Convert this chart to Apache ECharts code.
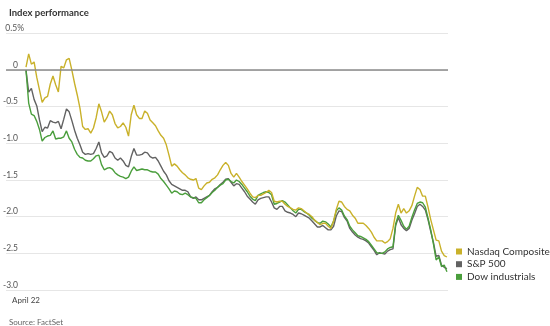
<!DOCTYPE html>
<html>
<head>
<meta charset="utf-8">
<script src="https://cdn.jsdelivr.net/npm/echarts@6/dist/echarts.min.js"></script>
<style>
html,body{margin:0;padding:0;background:#fff;}
#chart{width:550px;height:326px;}
</style>
</head>
<body>
<div id="chart"></div>
<script>
// Minutes since market open (2.5-minute samples, 9:30 to 16:00)
const minutes = [];
for (let m = 0; m <= 390; m += 2.5) minutes.push(m);

const seriesNames = ['Nasdaq Composite', 'S&P 500', 'Dow industrials'];

// Percent change values
const nasdaq = [
  0.04,0.22, 0.08,0.11, -0.10,-0.27, -0.44,-0.38, -0.36,-0.19, -0.08,-0.20, -0.30,0.05, 0.03,0.14, 0.16,0.00, -0.18,-0.34,
  -0.52,-0.77, -0.81,-0.80, -0.86,-0.79, -0.65,-0.46, -0.57,-0.71, -0.65,-0.56, -0.61,-0.73, -0.79,-0.77, -0.72,-0.78, -0.90,-0.61,
  -0.48,-0.61, -0.66,-0.66, -0.56,-0.59, -0.68,-0.72, -0.76,-0.83, -0.89,-0.93, -1.02,-1.16, -1.31,-1.28, -1.31,-1.36, -1.40,-1.43,
  -1.47,-1.49, -1.50,-1.48, -1.61,-1.63, -1.58,-1.54, -1.53,-1.49, -1.47,-1.43, -1.36,-1.30, -1.26,-1.30, -1.41,-1.46, -1.41,-1.46,
  -1.52,-1.57, -1.62,-1.68, -1.73,-1.74, -1.71,-1.71, -1.69,-1.67, -1.64,-1.67, -1.79,-1.80, -1.79,-1.79, -1.83,-1.86, -1.88,-1.90,
  -1.91,-1.88, -1.89,-1.92, -1.95,-1.97, -2.00,-2.05, -2.08,-2.11, -2.09,-2.09, -2.13,-2.16, -2.06,-1.90, -1.79,-1.80, -1.86,-1.90,
  -1.92,-1.98, -2.02,-2.09, -2.09,-2.09, -2.12,-2.16, -2.21,-2.28, -2.33,-2.33, -2.33,-2.36, -2.34,-2.30, -2.16,-1.95, -1.83,-1.95,
  -1.89,-1.95, -1.92,-1.85, -1.72,-1.60, -1.63,-1.72, -1.72,-1.87, -2.04,-2.18, -2.32,-2.33, -2.47,-2.53, -2.55];

const sp500 = [
  0,-0.30, -0.25,-0.40, -0.49,-0.68, -0.84,-0.78, -0.79,-0.69, -0.71,-0.72, -0.70,-0.80, -0.67,-0.53, -0.57,-0.69, -0.82,-0.93,
  -1.02,-1.12, -1.15,-1.14, -1.15,-1.14, -1.07,-0.98, -1.13,-1.19, -1.17,-1.11, -1.13,-1.20, -1.23,-1.20, -1.24,-1.30, -1.32,-1.18,
  -1.07,-1.16, -1.16,-1.15, -1.12,-1.13, -1.18,-1.20, -1.19,-1.24, -1.31,-1.38, -1.43,-1.51, -1.56,-1.58, -1.60,-1.62, -1.64,-1.64,
  -1.66,-1.73, -1.75,-1.73, -1.77,-1.77, -1.75,-1.73, -1.71,-1.66, -1.62,-1.60, -1.56,-1.53, -1.49,-1.48, -1.53,-1.58, -1.55,-1.56,
  -1.61,-1.66, -1.72,-1.76, -1.80,-1.83, -1.77,-1.75, -1.74,-1.73, -1.73,-1.80, -1.88,-1.90, -1.86,-1.86, -1.92,-1.94, -1.95,-1.97,
  -2.00,-1.95, -1.96,-1.98, -2.00,-2.02, -2.06,-2.10, -2.14,-2.14, -2.12,-2.15, -2.18,-2.18, -2.13,-1.99, -1.92,-1.93, -2.01,-2.06,
  -2.16,-2.21, -2.25,-2.28, -2.30,-2.31, -2.33,-2.36, -2.41,-2.46, -2.52,-2.49, -2.50,-2.51, -2.47,-2.45, -2.44,-2.12, -2.01,-2.11,
  -2.16,-2.19, -2.16,-2.05, -1.96,-1.86, -1.83,-1.86, -1.91,-2.04, -2.20,-2.35, -2.54,-2.53, -2.66,-2.69, -2.71];

const dow = [
  0,-0.45, -0.60,-0.62, -0.70,-0.81, -0.97,-0.92, -0.90,-0.89, -0.83,-0.94, -0.93,-0.93, -0.91,-0.83, -0.93,-0.98, -1.08,-1.15,
  -1.19,-1.20, -1.23,-1.24, -1.24,-1.21, -1.17,-1.16, -1.29,-1.36, -1.34,-1.33, -1.35,-1.40, -1.43,-1.45, -1.46,-1.48, -1.46,-1.38,
  -1.32,-1.37, -1.36,-1.35, -1.36,-1.36, -1.38,-1.39, -1.39,-1.42, -1.48,-1.52, -1.57,-1.62, -1.68,-1.65, -1.66,-1.69, -1.70,-1.68,
  -1.70,-1.73, -1.74,-1.75, -1.81,-1.81, -1.77,-1.74, -1.71,-1.67, -1.64,-1.60, -1.57,-1.55, -1.50,-1.49, -1.52,-1.54, -1.50,-1.52,
  -1.56,-1.61, -1.66,-1.72, -1.76,-1.78, -1.71,-1.69, -1.67,-1.66, -1.67,-1.70, -1.83,-1.82, -1.80,-1.78, -1.80,-1.84, -1.88,-1.92,
  -1.95,-1.90, -1.90,-1.93, -1.95,-1.98, -2.02,-2.05, -2.08,-2.09, -2.06,-2.07, -2.10,-2.14, -2.06,-1.92, -1.88,-1.91, -1.99,-2.04,
  -2.13,-2.18, -2.22,-2.26, -2.27,-2.29, -2.31,-2.34, -2.39,-2.44, -2.49,-2.50, -2.50,-2.48, -2.44,-2.42, -2.41,-2.10, -1.98,-2.05,
  -2.13,-2.17, -2.13,-2.01, -1.91,-1.82, -1.80,-1.81, -1.87,-2.02, -2.18,-2.37, -2.59,-2.55, -2.68,-2.66, -2.75];

const xTickValues = [0];
const xTickLabels = ['April 22'];

const colors = {nasdaq: '#c9b12a', sp: '#626262', dow: '#4a9e3c'};

function pairs(vals) { return vals.map((v, i) => [minutes[i], v]); }

const chart = echarts.init(document.getElementById('chart'));
const FONT = 'Lato, "Open Sans", sans-serif';

chart.setOption({
  animation: false,
  textStyle: {fontFamily: FONT},
  title: [
    {text: 'Index performance', left: 4, top: 3,
     textStyle: {fontSize: 9.5, fontWeight: 'bold', color: '#333', fontFamily: FONT}},
    {text: 'Source: FactSet', left: 4, top: 313,
     textStyle: {fontSize: 8, fontWeight: 'normal', color: '#666', fontFamily: FONT}}
  ],
  legend: {
    data: seriesNames,
    orient: 'vertical',
    left: 456, top: 246, padding: 0,
    icon: 'rect', itemWidth: 6, itemHeight: 6, itemGap: 1.7,
    textStyle: {fontSize: 10, color: '#333', fontFamily: FONT, lineHeight: 11, overflow: 'none'},
    selectedMode: false
  },
  grid: {left: 5, right: 102, top: 33.4, bottom: 36, containLabel: false},
  xAxis: {
    type: 'value', min: -18.5, max: 391,
    axisLine: {show: false},
    splitLine: {show: false},
    axisTick: {show: true, customValues: xTickValues, length: 3, lineStyle: {color: '#333', width: 1}},
    axisLabel: {customValues: xTickValues, formatter: function (v) { return xTickLabels[xTickValues.indexOf(v)] || ''; },
      fontSize: 8, color: '#444', margin: 6, fontFamily: FONT}
  },
  yAxis: {
    type: 'value', min: -3, max: 0.5, interval: 0.5,
    axisLine: {show: false}, axisTick: {show: false},
    splitLine: {show: true, lineStyle: {color: '#e6e6e6', width: 1}},
    axisLabel: {
      inside: true, align: 'right', margin: 18, verticalAlign: 'bottom',
      fontSize: 8.5, color: '#555', lineHeight: 10, fontFamily: FONT,
      formatter: function (v) {
        if (Math.abs(v - 0.5) < 1e-9) return '{a|0.5%}';
        const s = Math.abs(v) < 1e-9 ? '0' : v.toFixed(1);
        return '{b|' + s + '}';
      },
      rich: {
        a: {fontSize: 8.5, color: '#555', fontFamily: FONT, lineHeight: 10},
        b: {fontSize: 8.5, color: '#555', fontFamily: FONT, lineHeight: 10, padding: [0, 6, 0, 0]}
      }
    }
  },
  series: [
    {name: 'S&P 500', type: 'line', data: pairs(sp500), showSymbol: false, symbol: 'none',
     lineStyle: {color: colors.sp, width: 1.4}, itemStyle: {color: colors.sp}, z: 2,
     markLine: {silent: true, symbol: 'none', label: {show: false},
       lineStyle: {color: '#8a8a8a', width: 1.5, type: 'solid'}, data: [{yAxis: 0}]}},
    {name: 'Dow industrials', type: 'line', data: pairs(dow), showSymbol: false, symbol: 'none',
     lineStyle: {color: colors.dow, width: 1.4}, itemStyle: {color: colors.dow}, z: 3},
    {name: 'Nasdaq Composite', type: 'line', data: pairs(nasdaq), showSymbol: false, symbol: 'none',
     lineStyle: {color: colors.nasdaq, width: 1.4}, itemStyle: {color: colors.nasdaq}, z: 4}
  ]
});
</script>
</body>
</html>
